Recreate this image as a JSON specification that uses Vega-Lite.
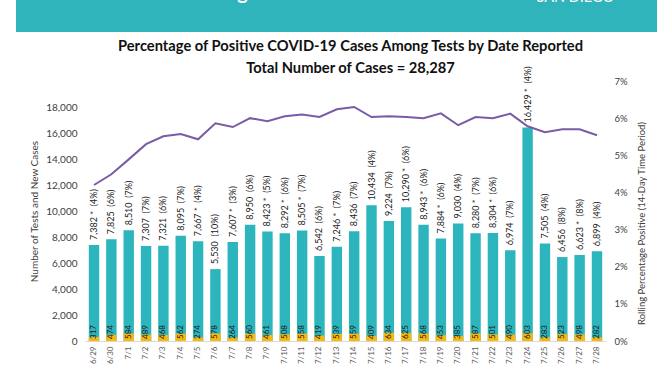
{
  "$schema": "https://vega.github.io/schema/vega-lite/v6.json",
  "padding": {"left": 16, "top": 0, "right": 0, "bottom": 0},
  "background": "white",
  "spacing": 6,
  "config": {"font": "Lato", "view": {"stroke": null}},
  "vconcat": [
    {
      "width": 641,
      "height": 32,
      "view": {"fill": "#30b4bb", "stroke": null},
      "layer": [
        {
          "data": {"values": [{"t": "COVID-19 Percentage Positive"}]},
          "mark": {"type": "text", "clip": true, "align": "left", "baseline": "bottom", "dx": -277, "dy": -13, "fontSize": 20, "fontWeight": "bold", "color": "white"},
          "encoding": {"text": {"field": "t"}}
        },
        {
          "data": {"values": [{"t": "SAN DIEGO"}]},
          "mark": {"type": "text", "clip": true, "align": "left", "baseline": "bottom", "dx": 200, "dy": -11, "fontSize": 14.5, "color": "white"},
          "encoding": {"text": {"field": "t"}}
        }
      ]
    },
    {
      "spacing": 12,
      "hconcat": [
        {
          "width": 1,
          "height": 1,
          "data": {"values": []},
          "mark": "point"
        },
        {
          "width": 521,
          "height": 260,
          "title": {
            "text": "Percentage of Positive COVID-19 Cases Among Tests by Date Reported",
            "subtitle": "Total Number of Cases = 28,287",
            "fontSize": 14.7, "subtitleFontSize": 14.7,
            "fontWeight": "bold", "subtitleFontWeight": "bold",
            "color": "#111111", "subtitleColor": "#111111",
            "font": "Lato", "subtitleFont": "Lato",
            "anchor": "middle", "frame": "group", "offset": -9, "subtitlePadding": 7, "dx": 5
          },
          "data": {"values": [
            {"date": "6/29", "tests": 7382, "cases": 317, "label": "7,382 *\u00a0\u00a0(4%)", "pct": 0.042},
            {"date": "6/30", "tests": 7825, "cases": 474, "label": "7,825\u00a0\u00a0(6%)", "pct": 0.0449},
            {"date": "7/1", "tests": 8510, "cases": 584, "label": "8,510\u00a0\u00a0(7%)", "pct": 0.0489},
            {"date": "7/2", "tests": 7307, "cases": 489, "label": "7,307\u00a0\u00a0(7%)", "pct": 0.053},
            {"date": "7/3", "tests": 7321, "cases": 468, "label": "7,321\u00a0\u00a0(6%)", "pct": 0.0551},
            {"date": "7/4", "tests": 8095, "cases": 562, "label": "8,095\u00a0\u00a0(7%)", "pct": 0.0557},
            {"date": "7/5", "tests": 7667, "cases": 274, "label": "7,667 *\u00a0\u00a0(4%)", "pct": 0.0543},
            {"date": "7/6", "tests": 5530, "cases": 578, "label": "5,530\u00a0\u00a0(10%)", "pct": 0.0586},
            {"date": "7/7", "tests": 7607, "cases": 264, "label": "7,607 *\u00a0\u00a0(3%)", "pct": 0.0576},
            {"date": "7/8", "tests": 8950, "cases": 560, "label": "8,950\u00a0\u00a0(6%)", "pct": 0.06},
            {"date": "7/9", "tests": 8423, "cases": 461, "label": "8,423 *\u00a0\u00a0(5%)", "pct": 0.0592},
            {"date": "7/10", "tests": 8292, "cases": 508, "label": "8,292 *\u00a0\u00a0(6%)", "pct": 0.0605},
            {"date": "7/11", "tests": 8505, "cases": 558, "label": "8,505 *\u00a0\u00a0(7%)", "pct": 0.061},
            {"date": "7/12", "tests": 6542, "cases": 419, "label": "6,542\u00a0\u00a0(6%)", "pct": 0.0603},
            {"date": "7/13", "tests": 7246, "cases": 539, "label": "7,246 *\u00a0\u00a0(7%)", "pct": 0.0624},
            {"date": "7/14", "tests": 8436, "cases": 559, "label": "8,436\u00a0\u00a0(7%)", "pct": 0.063},
            {"date": "7/15", "tests": 10434, "cases": 409, "label": "10,434\u00a0\u00a0(4%)", "pct": 0.0603},
            {"date": "7/16", "tests": 9224, "cases": 634, "label": "9,224\u00a0\u00a0(7%)", "pct": 0.0605},
            {"date": "7/17", "tests": 10290, "cases": 625, "label": "10,290 *\u00a0\u00a0(6%)", "pct": 0.0603},
            {"date": "7/18", "tests": 8943, "cases": 568, "label": "8,943 *\u00a0\u00a0(6%)", "pct": 0.06},
            {"date": "7/19", "tests": 7884, "cases": 453, "label": "7,884 *\u00a0\u00a0(6%)", "pct": 0.0613},
            {"date": "7/20", "tests": 9030, "cases": 385, "label": "9,030\u00a0\u00a0(4%)", "pct": 0.0581},
            {"date": "7/21", "tests": 8280, "cases": 587, "label": "8,280 *\u00a0\u00a0(7%)", "pct": 0.0603},
            {"date": "7/22", "tests": 8304, "cases": 501, "label": "8,304 *\u00a0\u00a0(6%)", "pct": 0.06},
            {"date": "7/23", "tests": 6974, "cases": 490, "label": "6,974\u00a0\u00a0(7%)", "pct": 0.0612},
            {"date": "7/24", "tests": 16429, "cases": 603, "label": "16,429 *\u00a0\u00a0(4%)", "pct": 0.0578},
            {"date": "7/25", "tests": 7505, "cases": 283, "label": "7,505\u00a0\u00a0(4%)", "pct": 0.0562},
            {"date": "7/26", "tests": 6456, "cases": 523, "label": "6,456\u00a0\u00a0(8%)", "pct": 0.057},
            {"date": "7/27", "tests": 6623, "cases": 498, "label": "6,623 *\u00a0\u00a0(8%)", "pct": 0.057},
            {"date": "7/28", "tests": 6899, "cases": 282, "label": "6,899\u00a0\u00a0(4%)", "pct": 0.0554}
          ]},
          "encoding": {
            "x": {
              "field": "date", "type": "ordinal", "sort": null,
              "scale": {"paddingInner": 0.4, "paddingOuter": 0.22},
              "axis": {"title": null, "labelAngle": 270, "labelFontSize": 8, "labelColor": "#595959", "labelPadding": 5, "ticks": false, "domainColor": "#d9d9d9", "domainWidth": 1}
            }
          },
          "layer": [
            {
              "layer": [
                {
                  "mark": {"type": "bar", "color": "#2cb5bd"},
                  "encoding": {
                    "y": {
                      "field": "tests", "type": "quantitative",
                      "scale": {"domain": [0, 20000], "nice": false},
                      "axis": {"title": "Number of Tests and New Cases", "values": [0, 2000, 4000, 6000, 8000, 10000, 12000, 14000, 16000, 18000], "labelExpr": "format(datum.value, ',')", "grid": false, "domain": false, "ticks": false, "labelPadding": 8, "labelFontSize": 10, "labelColor": "#404040", "titleFontSize": 10, "titleFontWeight": "normal", "titleColor": "#404040", "titlePadding": 6}
                    }
                  }
                },
                {
                  "mark": {"type": "bar", "color": "#f6b811"},
                  "encoding": {
                    "y": {
                      "field": "cases", "type": "quantitative",
                      "axis": {"title": "Number of Tests and New Cases", "values": [0, 2000, 4000, 6000, 8000, 10000, 12000, 14000, 16000, 18000], "labelExpr": "format(datum.value, ',')", "grid": false, "domain": false, "ticks": false, "labelPadding": 8, "labelFontSize": 10, "labelColor": "#404040", "titleFontSize": 10, "titleFontWeight": "normal", "titleColor": "#404040", "titlePadding": 6}
                    }
                  }
                },
                {
                  "mark": {"type": "text", "angle": 270, "align": "left", "baseline": "middle", "dx": 5, "fontSize": 9, "color": "#1a1a1a"},
                  "encoding": {
                    "y": {
                      "field": "tests", "type": "quantitative",
                      "axis": {"title": "Number of Tests and New Cases", "values": [0, 2000, 4000, 6000, 8000, 10000, 12000, 14000, 16000, 18000], "labelExpr": "format(datum.value, ',')", "grid": false, "domain": false, "ticks": false, "labelPadding": 8, "labelFontSize": 10, "labelColor": "#404040", "titleFontSize": 10, "titleFontWeight": "normal", "titleColor": "#404040", "titlePadding": 6}
                    },
                    "text": {"field": "label"}
                  }
                },
                {
                  "mark": {"type": "text", "angle": 270, "align": "left", "baseline": "middle", "dx": 2, "fontSize": 8, "color": "#1a1a1a"},
                  "encoding": {
                    "y": {
                      "datum": 0, "type": "quantitative",
                      "axis": {"title": "Number of Tests and New Cases", "values": [0, 2000, 4000, 6000, 8000, 10000, 12000, 14000, 16000, 18000], "labelExpr": "format(datum.value, ',')", "grid": false, "domain": false, "ticks": false, "labelPadding": 8, "labelFontSize": 10, "labelColor": "#404040", "titleFontSize": 10, "titleFontWeight": "normal", "titleColor": "#404040", "titlePadding": 6}
                    },
                    "text": {"field": "cases"}
                  }
                }
              ]
            },
            {
              "mark": {"type": "line", "color": "#7b5ba6", "strokeWidth": 2},
              "encoding": {
                "y": {
                  "field": "pct", "type": "quantitative", "title": "Rolling Percentage Positive (14-Day Time Period)",
                  "scale": {"domain": [0, 0.07], "nice": false},
                  "axis": {"orient": "right", "values": [0, 0.01, 0.02, 0.03, 0.04, 0.05, 0.06, 0.07], "format": ".0%", "grid": false, "domain": false, "ticks": false, "labelPadding": 8, "labelFontSize": 9.5, "labelColor": "#404040", "titleFontSize": 9.5, "titleFontWeight": "normal", "titleColor": "#404040", "titlePadding": 9, "titleAngle": 270, "titleBaseline": "top", "titleY": 142}
                }
              }
            }
          ],
          "resolve": {"scale": {"y": "independent"}}
        }
      ]
    }
  ]
}
